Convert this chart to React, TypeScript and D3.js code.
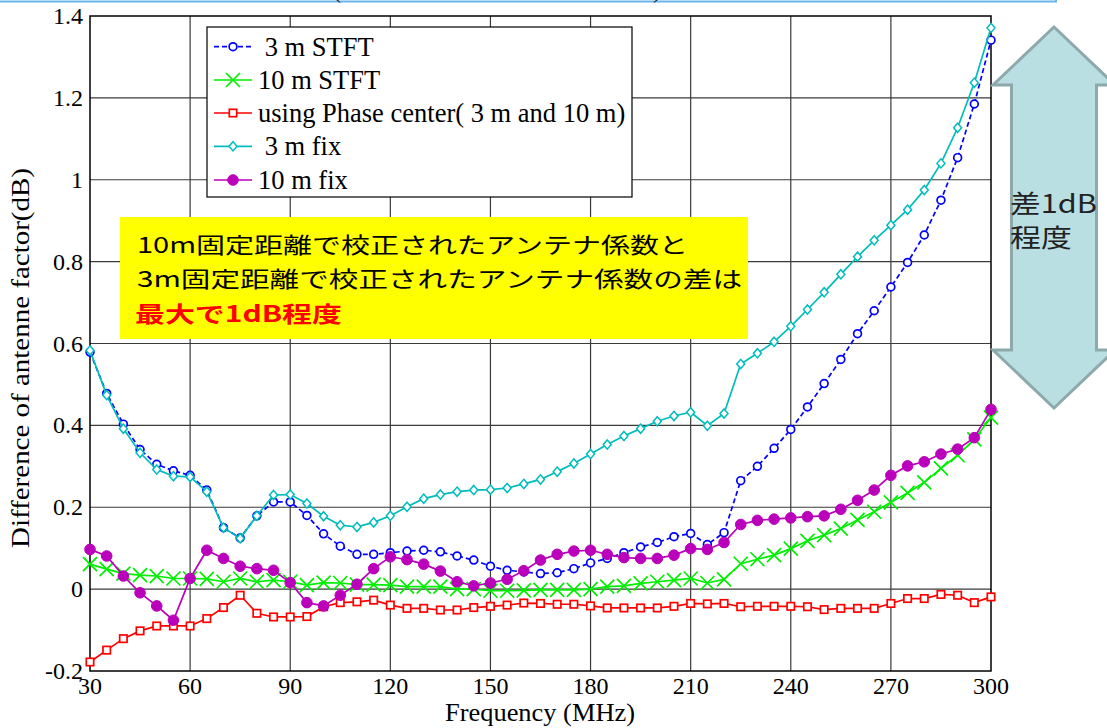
import React from "react";
import * as d3 from "d3";

const freqs = [30,35,40,45,50,55,60,65,70,75,80,85,90,95,100,105,110,115,120,125,130,135,140,145,150,155,160,165,170,175,180,185,190,195,200,205,210,215,220,225,230,235,240,245,250,255,260,265,270,275,280,285,290,295,300];

const stft3 = [0.579,0.478,0.403,0.341,0.305,0.289,0.278,0.242,0.150,0.125,0.179,0.213,0.213,0.180,0.135,0.105,0.085,0.085,0.089,0.093,0.095,0.091,0.081,0.071,0.056,0.046,0.042,0.038,0.040,0.050,0.064,0.075,0.089,0.103,0.114,0.128,0.136,0.109,0.138,0.265,0.300,0.344,0.390,0.445,0.502,0.561,0.624,0.680,0.738,0.798,0.865,0.950,1.054,1.185,1.341];

const stft10 = [0.061,0.049,0.038,0.034,0.032,0.026,0.026,0.025,0.018,0.026,0.018,0.022,0.018,0.010,0.016,0.015,0.011,0.011,0.010,0.006,0.006,0.006,0.000,0.000,-0.004,-0.004,-0.003,-0.002,-0.002,-0.002,0.000,0.006,0.008,0.014,0.018,0.022,0.026,0.015,0.024,0.062,0.073,0.083,0.099,0.118,0.132,0.148,0.169,0.189,0.212,0.235,0.261,0.295,0.327,0.366,0.419];

const phaseCenter = [-0.178,-0.149,-0.121,-0.102,-0.090,-0.090,-0.090,-0.072,-0.045,-0.015,-0.059,-0.068,-0.068,-0.067,-0.043,-0.033,-0.031,-0.027,-0.039,-0.047,-0.047,-0.051,-0.051,-0.045,-0.042,-0.039,-0.034,-0.035,-0.037,-0.037,-0.041,-0.046,-0.046,-0.046,-0.046,-0.042,-0.035,-0.036,-0.035,-0.043,-0.042,-0.042,-0.042,-0.043,-0.050,-0.047,-0.047,-0.047,-0.035,-0.023,-0.023,-0.013,-0.015,-0.033,-0.019];

const fix3 = [0.583,0.474,0.392,0.333,0.292,0.276,0.274,0.238,0.150,0.124,0.179,0.230,0.231,0.209,0.178,0.156,0.152,0.163,0.179,0.201,0.221,0.231,0.238,0.242,0.243,0.247,0.257,0.268,0.287,0.307,0.330,0.353,0.374,0.392,0.410,0.423,0.432,0.399,0.429,0.550,0.576,0.604,0.642,0.683,0.725,0.769,0.812,0.852,0.889,0.927,0.975,1.040,1.127,1.237,1.371];

const fix10 = [0.097,0.081,0.032,-0.009,-0.041,-0.076,0.026,0.095,0.075,0.056,0.050,0.046,0.016,-0.033,-0.041,-0.015,0.012,0.050,0.079,0.072,0.061,0.044,0.018,0.008,0.015,0.024,0.045,0.071,0.085,0.093,0.095,0.085,0.077,0.075,0.075,0.083,0.099,0.097,0.114,0.158,0.168,0.171,0.174,0.177,0.179,0.195,0.217,0.242,0.278,0.301,0.311,0.330,0.342,0.370,0.439];

const xTicks = [30,60,90,120,150,180,210,240,270,300];
const yTicks = [-0.2,0,0.2,0.4,0.6,0.8,1,1.2,1.4];
const yTickLabels = ["-0.2","0","0.2","0.4","0.6","0.8","1","1.2","1.4"];

const seriesNames = [" 3 m STFT","10 m STFT","using Phase center( 3 m and 10 m)"," 3 m fix","10 m fix"];

const noteLines = ["10m固定距離で校正されたアンテナ係数と","3m固定距離で校正されたアンテナ係数の差は","最大で1dB程度"];
const arrowLines = ["差1dB","程度"];

const W = 1107, H = 728;
const L = 90, R = 991, T = 16, B = 671;

type MarkerKind = "circle" | "x" | "square" | "diamond" | "dot";

function Marker({ kind, x, y, color }: { kind: MarkerKind; x: number; y: number; color: string }) {
  switch (kind) {
    case "circle":
      return <circle cx={x} cy={y} r={3.9} fill="white" stroke={color} strokeWidth={1.7} />;
    case "x":
      return <path d={`M${x-7},${y-7}L${x+7},${y+7}M${x-7},${y+7}L${x+7},${y-7}`} stroke={color} strokeWidth={1.7} fill="none" />;
    case "square":
      return <rect x={x-3.7} y={y-3.7} width={7.4} height={7.4} fill="white" stroke={color} strokeWidth={1.7} />;
    case "diamond":
      return <path d={`M${x},${y-4.6}L${x+4},${y}L${x},${y+4.6}L${x-4},${y}Z`} fill="white" stroke={color} strokeWidth={1.5} />;
    case "dot":
      return <circle cx={x} cy={y} r={5.3} fill={color} stroke={color} strokeWidth={1} />;
  }
}

export default function App() {
  const x = d3.scaleLinear().domain([30, 300]).range([L, R]);
  const y = d3.scaleLinear().domain([-0.2, 1.4]).range([B, T]);

  const series: { values: number[]; color: string; dash?: string; marker: MarkerKind }[] = [
    { values: stft3, color: "#0000ff", dash: "5,3", marker: "circle" },
    { values: stft10, color: "#00ee00", marker: "x" },
    { values: phaseCenter, color: "#ff0000", marker: "square" },
    { values: fix3, color: "#00bcbc", marker: "diamond" },
    { values: fix10, color: "#bb00bb", marker: "dot" },
  ];

  const line = (vals: number[]) =>
    d3.line<number>().x((_, i) => x(freqs[i])).y((v) => y(v))(vals) || "";

  const serif = "'Liberation Serif', 'Times New Roman', serif";
  const cjk = "'Noto Sans CJK JP', sans-serif";

  // arrow geometry
  const ax = 1054, headHalf = 61, shaftHalf = 42.5;
  const arrowPath = `M${ax},27 L${ax + headHalf},85 L${ax + shaftHalf},85 L${ax + shaftHalf},350 L${ax + headHalf},350 L${ax},408 L${ax - headHalf},350 L${ax - shaftHalf},350 L${ax - shaftHalf},85 L${ax - headHalf},85 Z`;

  const legendY = [46.7, 80, 113, 146.3, 180];

  return (
    <svg width={W} height={H} style={{ position: "absolute", left: 0, top: 0, background: "white" }}>
      {/* title box remnant (cut off at the top, as in the source) */}
      <rect x={-5} y={-40} width={1061} height={41.5} fill="white" stroke="#6ab4ea" strokeWidth={2} />
      <text x={333} y={-2} fontFamily={serif} fontSize={24} fill="#222">(</text>
      <text x={653} y={-2} fontFamily={serif} fontSize={24} fill="#222">)</text>

      {/* grid */}
      {xTicks.slice(1, -1).map((t) => (
        <line key={"gx" + t} x1={x(t)} x2={x(t)} y1={T} y2={B} stroke="#3a3a3a" strokeWidth={1.2} />
      ))}
      {yTicks.slice(1, -1).map((t) => (
        <line key={"gy" + t} x1={L} x2={R} y1={y(t)} y2={y(t)} stroke="#3a3a3a" strokeWidth={1.2} />
      ))}
      <rect x={L} y={T} width={R - L} height={B - T} fill="none" stroke="#000" strokeWidth={1.5} />

      {/* tick labels */}
      {xTicks.map((t) => (
        <text key={"xt" + t} x={x(t)} y={694} textAnchor="middle" fontFamily={serif} fontSize={24} fill="#000">{t}</text>
      ))}
      {yTicks.map((t, i) => (
        <text key={"yt" + t} x={83} y={y(t) + 8} textAnchor="end" fontFamily={serif} fontSize={24} fill="#000">{yTickLabels[i]}</text>
      ))}

      {/* axis titles */}
      <text x={540} y={721} textAnchor="middle" fontFamily={serif} fontSize={25} textLength={190} lengthAdjust="spacingAndGlyphs">Frequency (MHz)</text>
      <text transform="translate(29,358) rotate(-90)" textAnchor="middle" fontFamily={serif} fontSize={25} textLength={380} lengthAdjust="spacingAndGlyphs">Difference of antenne factor(dB)</text>

      {/* series */}
      {series.map((s, si) => (
        <g key={"s" + si}>
          <path d={line(s.values)} fill="none" stroke={s.color} strokeWidth={1.7} strokeDasharray={s.dash} />
          {s.values.map((v, i) => (
            <Marker key={i} kind={s.marker} x={x(freqs[i])} y={y(v)} color={s.color} />
          ))}
        </g>
      ))}

      {/* legend */}
      <rect x={207} y={27} width={425} height={170} fill="white" stroke="#000" strokeWidth={1.2} />
      {series.map((s, i) => (
        <g key={"lg" + i}>
          <line x1={214} x2={252} y1={legendY[i]} y2={legendY[i]} stroke={s.color} strokeWidth={1.7} strokeDasharray={s.dash} />
          <Marker kind={s.marker} x={233} y={legendY[i]} color={s.color} />
          <text x={258} y={legendY[i] + 9} fontFamily={serif} fontSize={26.5} fill="#000" style={{ whiteSpace: "pre" }}>{seriesNames[i]}</text>
        </g>
      ))}

      {/* yellow note */}
      <rect x={120} y={217} width={628} height={122} fill="#ffff00" />
      <text x={137} y={253} fontFamily={cjk} fontSize={22} fill="#000" textLength={551} lengthAdjust="spacingAndGlyphs">{noteLines[0]}</text>
      <text x={137} y={287} fontFamily={cjk} fontSize={22} fill="#000" textLength={605} lengthAdjust="spacingAndGlyphs">{noteLines[1]}</text>
      <text x={135} y={322} fontFamily={cjk} fontSize={22} fontWeight="bold" fill="#ff0000" textLength={207} lengthAdjust="spacingAndGlyphs">{noteLines[2]}</text>

      {/* arrow */}
      <path d={arrowPath} fill="#b9dfe3" stroke="#8ea9ab" strokeWidth={3} strokeLinejoin="miter" />
      <text x={1010} y={213} fontFamily={cjk} fontSize={25} fill="#222" textLength={87} lengthAdjust="spacingAndGlyphs">{arrowLines[0]}</text>
      <text x={1010} y={247} fontFamily={cjk} fontSize={25} fill="#222" textLength={62} lengthAdjust="spacingAndGlyphs">{arrowLines[1]}</text>
    </svg>
  );
}
